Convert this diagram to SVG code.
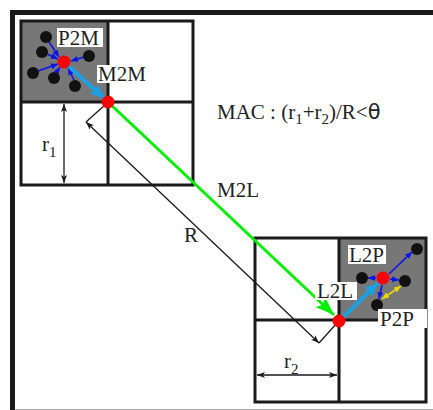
<svg xmlns="http://www.w3.org/2000/svg" width="433" height="410" viewBox="0 0 433 410">
<style>
.box{fill:none;stroke:#1a1a1a;stroke-width:3}
.cell{fill:#777}
.lbl{font-family:"Liberation Serif",serif;font-size:21px;fill:#222}
.bg{fill:#fff}
.blk{fill:#111}
.red{fill:#f00}
.blue{stroke:#0a14f0;stroke-width:1.6;fill:none}
.thin{stroke:#1a1a1a;stroke-width:1.3;fill:none}
</style>
<defs>
<marker id="hb" markerUnits="userSpaceOnUse" markerWidth="8" markerHeight="8" refX="7" refY="4" orient="auto-start-reverse"><path d="M0,1 L7,4 L0,7 z" fill="#0a14f0"/></marker>
<marker id="hy" markerUnits="userSpaceOnUse" markerWidth="8" markerHeight="8" refX="7" refY="4" orient="auto-start-reverse"><path d="M0,1 L7,4 L0,7 z" fill="#e8d800"/></marker>
<marker id="hk" markerUnits="userSpaceOnUse" markerWidth="9" markerHeight="8" refX="8" refY="4" orient="auto-start-reverse"><path d="M0,1 L8,4 L0,7 L2,4 z" fill="#1a1a1a"/></marker>
<marker id="hc" markerUnits="userSpaceOnUse" markerWidth="14" markerHeight="14" refX="13" refY="7" orient="auto"><path d="M0,1 L13,7 L0,13 z" fill="#1ba0e2"/></marker>
<marker id="hg" markerUnits="userSpaceOnUse" markerWidth="20" markerHeight="16" refX="19" refY="8" orient="auto"><path d="M0,1 L19,8 L0,15 L4,8 z" fill="#00ee00"/></marker>
</defs>
<rect width="433" height="410" fill="#fff"/>
<g id="frame">
<path d="M12.5,410 V12.5 H433" fill="none" stroke="#1a1a1a" stroke-width="5"/>
<line x1="15" y1="409.5" x2="433" y2="409.5" stroke="#aaa" stroke-width="1"/>
</g>
<g id="cell1">
<rect class="cell" x="21" y="21" width="87" height="81"/>
<path class="box" d="M21,21 H193 V185 H21 Z M108,21 V185 M21,102 H193"/>
</g>
<g id="cell2">
<rect class="cell" x="339" y="238" width="87" height="82"/>
<path class="box" d="M255,238 H426 V402 H255 Z M339,238 V402 M255,320 H426"/>
</g>
<g id="connectors">
<line class="blue" x1="49" y1="42" x2="59" y2="57" marker-end="url(#hb)"/>
<line class="blue" x1="47" y1="54" x2="58" y2="59" marker-end="url(#hb)"/>
<line class="blue" x1="38" y1="71" x2="58" y2="64" marker-end="url(#hb)"/>
<line class="blue" x1="56" y1="73" x2="60" y2="67" marker-end="url(#hb)"/>
<line class="blue" x1="74" y1="80" x2="68" y2="68" marker-end="url(#hb)"/>
<line class="blue" x1="84" y1="57" x2="71" y2="61" marker-end="url(#hb)"/>
<line x1="64" y1="62" x2="104" y2="98" stroke="#1ba0e2" stroke-width="4" marker-end="url(#hc)"/>
<line x1="108" y1="102" x2="334" y2="315" stroke="#00ee00" stroke-width="3" marker-end="url(#hg)"/>
<line class="thin" x1="106" y1="104" x2="86" y2="122"/>
<line class="thin" x1="337" y1="323" x2="319" y2="343"/>
<line class="thin" x1="86" y1="122" x2="319" y2="343" marker-start="url(#hk)" marker-end="url(#hk)"/>
<line class="thin" x1="64" y1="104" x2="64" y2="183" marker-start="url(#hk)" marker-end="url(#hk)"/>
<line class="thin" x1="257" y1="375" x2="337" y2="375" marker-start="url(#hk)" marker-end="url(#hk)"/>
<line x1="339" y1="321" x2="378" y2="283" stroke="#1ba0e2" stroke-width="4" marker-end="url(#hc)"/>
<line class="blue" x1="376" y1="278" x2="368" y2="278" marker-end="url(#hb)"/>
<line class="blue" x1="390" y1="279" x2="399" y2="280" marker-end="url(#hb)"/>
<line class="blue" x1="389" y1="274" x2="412" y2="252" marker-end="url(#hb)"/>
<line class="blue" x1="382" y1="285" x2="379" y2="299" marker-end="url(#hb)"/>
<line x1="382" y1="299" x2="401" y2="286" stroke="#e8d800" stroke-width="1.6" marker-start="url(#hy)" marker-end="url(#hy)"/>
</g>
<g id="particles1">
<circle class="blk" cx="46" cy="37" r="6"/>
<circle class="blk" cx="42" cy="52" r="6"/>
<circle class="blk" cx="33" cy="73" r="6"/>
<circle class="blk" cx="54" cy="78" r="6"/>
<circle class="blk" cx="75" cy="86" r="6"/>
<circle class="blk" cx="89" cy="56" r="6"/>
</g>
<g id="multipole1"><circle class="red" cx="64" cy="62" r="6.5"/></g>
<g id="center1"><circle class="red" cx="108" cy="102" r="6.5"/></g>
<g id="particles2">
<circle class="blk" cx="362" cy="278" r="6"/>
<circle class="blk" cx="405" cy="281" r="6"/>
<circle class="blk" cx="417" cy="249" r="6"/>
<circle class="blk" cx="377" cy="305" r="6"/>
</g>
<g id="local2"><circle class="red" cx="383" cy="278" r="6.5"/></g>
<g id="center2"><circle class="red" cx="339" cy="321" r="6.5"/></g>
<g id="labels">
<rect class="bg" x="57" y="28" width="46" height="19"/>
<text class="lbl" x="58" y="45" font-size="22">P2M</text>
<rect class="bg" x="97" y="65" width="48" height="18"/>
<text class="lbl" x="98" y="81">M2M</text>
<text class="lbl" x="217" y="197" font-size="22">M2L</text>
<text class="lbl" x="184" y="242" font-size="22">R</text>
<text class="lbl" x="42" y="151" font-size="22">r<tspan font-size="15" dy="6">1</tspan></text>
<text class="lbl" x="284" y="368" font-size="22">r<tspan font-size="15" dy="6">2</tspan></text>
<rect class="bg" x="348" y="245" width="38" height="19"/>
<text class="lbl" x="349" y="262">L2P</text>
<rect class="bg" x="315" y="282" width="42" height="18"/>
<text class="lbl" x="317" y="298">L2L</text>
<rect class="bg" x="378" y="309" width="49" height="19"/>
<text class="lbl" x="380" y="326">P2P</text>
<text class="lbl" x="217" y="119" font-size="23">MAC : (r<tspan font-size="15" dy="5">1</tspan><tspan dy="-5">+r</tspan><tspan font-size="15" dy="5">2</tspan><tspan dy="-5">)/R&lt;</tspan><tspan font-family="DejaVu Sans" font-size="21">θ</tspan></text>
</g>
</svg>
